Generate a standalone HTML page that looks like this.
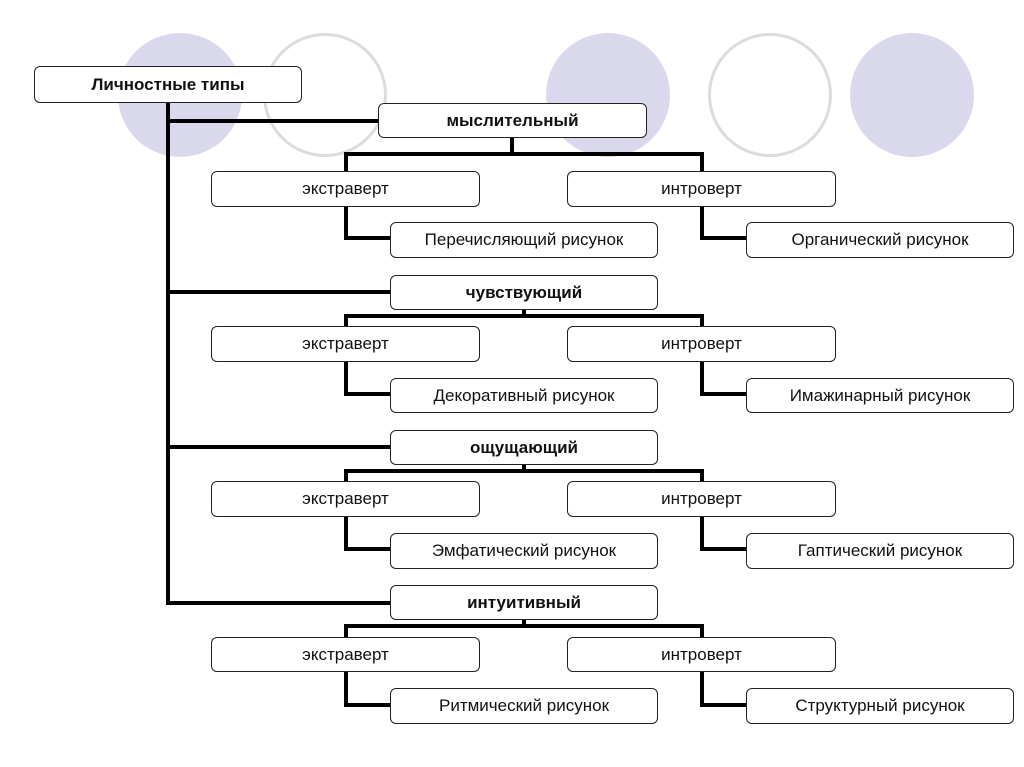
<!DOCTYPE html>
<html><head><meta charset="utf-8"><style>
body{margin:0;background:#fff;}
.c{position:absolute;border-radius:50%;width:124px;height:124px;top:33px;}
.f{background:#d9d8ec;}
.o{border:3px solid #dcdcdc;box-sizing:border-box;}
.b{position:absolute;border:1.5px solid #222;border-radius:6px;background:#fff;box-sizing:border-box;display:flex;align-items:center;justify-content:center;font-family:"Liberation Sans",sans-serif;font-size:17px;color:#111;}
.bold{font-weight:bold;}
.l{position:absolute;background:#000;}
</style></head><body>
<div style="position:relative;width:1024px;height:767px;overflow:hidden">
<div class="c f" style="left:118px"></div>
<div class="c o" style="left:263px"></div>
<div class="c f" style="left:546px"></div>
<div class="c o" style="left:708px"></div>
<div class="c f" style="left:850px"></div>

<div class="l" style="left:166px;top:103px;width:4px;height:502px"></div>
<div class="l" style="left:166px;top:119px;width:214px;height:4px"></div>
<div class="l" style="left:166px;top:290px;width:226px;height:4px"></div>
<div class="l" style="left:166px;top:445px;width:226px;height:4px"></div>
<div class="l" style="left:166px;top:601px;width:226px;height:4px"></div>

<!-- group 1 -->
<div class="l" style="left:510px;top:138px;width:4px;height:18px"></div>
<div class="l" style="left:344px;top:152px;width:360px;height:4px"></div>
<div class="l" style="left:344px;top:152px;width:4px;height:20px"></div>
<div class="l" style="left:700px;top:152px;width:4px;height:20px"></div>
<div class="l" style="left:344px;top:207px;width:4px;height:33px"></div>
<div class="l" style="left:344px;top:236px;width:48px;height:4px"></div>
<div class="l" style="left:700px;top:207px;width:4px;height:33px"></div>
<div class="l" style="left:700px;top:236px;width:48px;height:4px"></div>

<!-- group 2 -->
<div class="l" style="left:522px;top:310px;width:4px;height:8px"></div>
<div class="l" style="left:344px;top:314px;width:360px;height:4px"></div>
<div class="l" style="left:344px;top:314px;width:4px;height:14px"></div>
<div class="l" style="left:700px;top:314px;width:4px;height:14px"></div>
<div class="l" style="left:344px;top:362px;width:4px;height:34px"></div>
<div class="l" style="left:344px;top:392px;width:48px;height:4px"></div>
<div class="l" style="left:700px;top:362px;width:4px;height:34px"></div>
<div class="l" style="left:700px;top:392px;width:48px;height:4px"></div>

<!-- group 3 -->
<div class="l" style="left:522px;top:465px;width:4px;height:8px"></div>
<div class="l" style="left:344px;top:469px;width:360px;height:4px"></div>
<div class="l" style="left:344px;top:469px;width:4px;height:14px"></div>
<div class="l" style="left:700px;top:469px;width:4px;height:14px"></div>
<div class="l" style="left:344px;top:517px;width:4px;height:34px"></div>
<div class="l" style="left:344px;top:547px;width:48px;height:4px"></div>
<div class="l" style="left:700px;top:517px;width:4px;height:34px"></div>
<div class="l" style="left:700px;top:547px;width:48px;height:4px"></div>

<!-- group 4 -->
<div class="l" style="left:522px;top:620px;width:4px;height:8px"></div>
<div class="l" style="left:344px;top:624px;width:360px;height:4px"></div>
<div class="l" style="left:344px;top:624px;width:4px;height:14px"></div>
<div class="l" style="left:700px;top:624px;width:4px;height:14px"></div>
<div class="l" style="left:344px;top:672px;width:4px;height:35px"></div>
<div class="l" style="left:344px;top:703px;width:48px;height:4px"></div>
<div class="l" style="left:700px;top:672px;width:4px;height:35px"></div>
<div class="l" style="left:700px;top:703px;width:48px;height:4px"></div>

<div class="b bold" style="left:34px;top:66px;width:268px;height:37px">Личностные типы</div>
<div class="b bold" style="left:378px;top:103px;width:269px;height:35px">мыслительный</div>
<div class="b" style="left:211px;top:171px;width:269px;height:36px">экстраверт</div>
<div class="b" style="left:567px;top:171px;width:269px;height:36px">интроверт</div>
<div class="b" style="left:390px;top:222px;width:268px;height:36px">Перечисляющий рисунок</div>
<div class="b" style="left:746px;top:222px;width:268px;height:36px">Органический рисунок</div>

<div class="b bold" style="left:390px;top:275px;width:268px;height:35px">чувствующий</div>
<div class="b" style="left:211px;top:326px;width:269px;height:36px">экстраверт</div>
<div class="b" style="left:567px;top:326px;width:269px;height:36px">интроверт</div>
<div class="b" style="left:390px;top:378px;width:268px;height:35px">Декоративный рисунок</div>
<div class="b" style="left:746px;top:378px;width:268px;height:35px">Имажинарный рисунок</div>

<div class="b bold" style="left:390px;top:430px;width:268px;height:35px">ощущающий</div>
<div class="b" style="left:211px;top:481px;width:269px;height:36px">экстраверт</div>
<div class="b" style="left:567px;top:481px;width:269px;height:36px">интроверт</div>
<div class="b" style="left:390px;top:533px;width:268px;height:36px">Эмфатический рисунок</div>
<div class="b" style="left:746px;top:533px;width:268px;height:36px">Гаптический рисунок</div>

<div class="b bold" style="left:390px;top:585px;width:268px;height:35px">интуитивный</div>
<div class="b" style="left:211px;top:637px;width:269px;height:35px">экстраверт</div>
<div class="b" style="left:567px;top:637px;width:269px;height:35px">интроверт</div>
<div class="b" style="left:390px;top:688px;width:268px;height:36px">Ритмический рисунок</div>
<div class="b" style="left:746px;top:688px;width:268px;height:36px">Структурный рисунок</div>
</div>
</body></html>
